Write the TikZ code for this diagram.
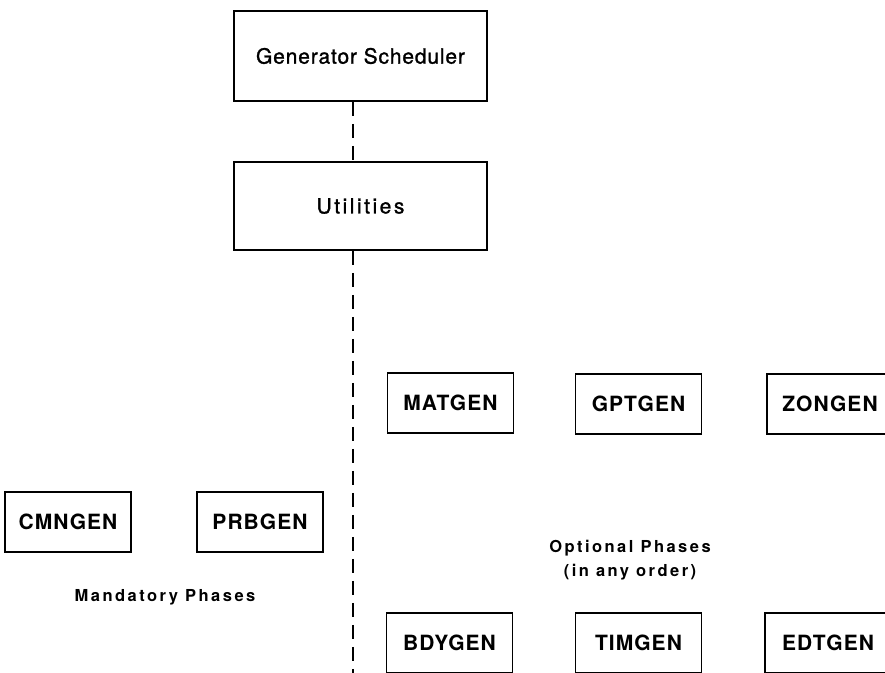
\documentclass[tikz,border=0pt]{standalone}
\usepackage{fontspec}
\setmainfont{TeX Gyre Heros}
\newfontfamily\titlefont[LetterSpace=4,FakeBold=1.2]{TeX Gyre Heros}
\newfontfamily\widefont[LetterSpace=12,FakeBold=1.2]{TeX Gyre Heros}
\newfontfamily\boxfont[LetterSpace=5]{TeX Gyre Heros}
\newfontfamily\notefont[LetterSpace=15]{TeX Gyre Heros}
\tikzset{
  module box/.style={draw=black, line width=1.8pt, minimum width=253pt,
    inner sep=0pt, font=\titlefont\fontsize{21}{25}\selectfont},
  phase box/.style={draw=black, line width=1.8pt, minimum width=126pt,
    minimum height=60pt, inner sep=0pt,
    font=\boxfont\bfseries\fontsize{21}{25}\selectfont},
  phase note/.style={font=\notefont\bfseries\fontsize{16.5}{24}\selectfont,
    align=center},
  call link/.style={line width=1.8pt, dash pattern=on 14pt off 8pt}
}
\newcommand{\phaseBox}[4]{%
  \node[phase box] (#1) at (#2,#3) {#4};%
}
\begin{document}
\begin{tikzpicture}[x=1pt,y=1pt]
  \useasboundingbox (0,0) rectangle (885,672);
  \clip (0,0) rectangle (885,672);

  \node[module box, minimum height=90pt] (gensched) at (360.5,616)
    {Generator Scheduler};
  \node[module box, minimum height=88pt, font=\widefont\fontsize{21}{25}\selectfont]
    (util) at (360.5,466) {Utilities};

  \coordinate (spine) at (353,0);
  \coordinate (spine end) at (353,-6);
  \draw[call link] (gensched.south -| spine) -- (util.north -| spine);
  \draw[call link] (util.south -| spine) -- (spine end);

  % mandatory phases
  \phaseBox{cmngen}{68}{150}{CMNGEN}
  \phaseBox{prbgen}{260}{150}{PRBGEN}
  \node[phase note] (mandatory) at (165,75) {Mandatory Phases};

  % optional phases
  \phaseBox{matgen}{450.5}{269}{MATGEN}
  \phaseBox{gptgen}{638.5}{268}{GPTGEN}
  \phaseBox{zongen}{830}{268}{ZONGEN}
  \phaseBox{bdygen}{449.5}{29}{BDYGEN}
  \phaseBox{timgen}{638.5}{29}{TIMGEN}
  \phaseBox{edtgen}{828}{29}{EDTGEN}
  \node[phase note] (optional) at (630,112) {Optional Phases\\(in any order)};
\end{tikzpicture}
\end{document}
